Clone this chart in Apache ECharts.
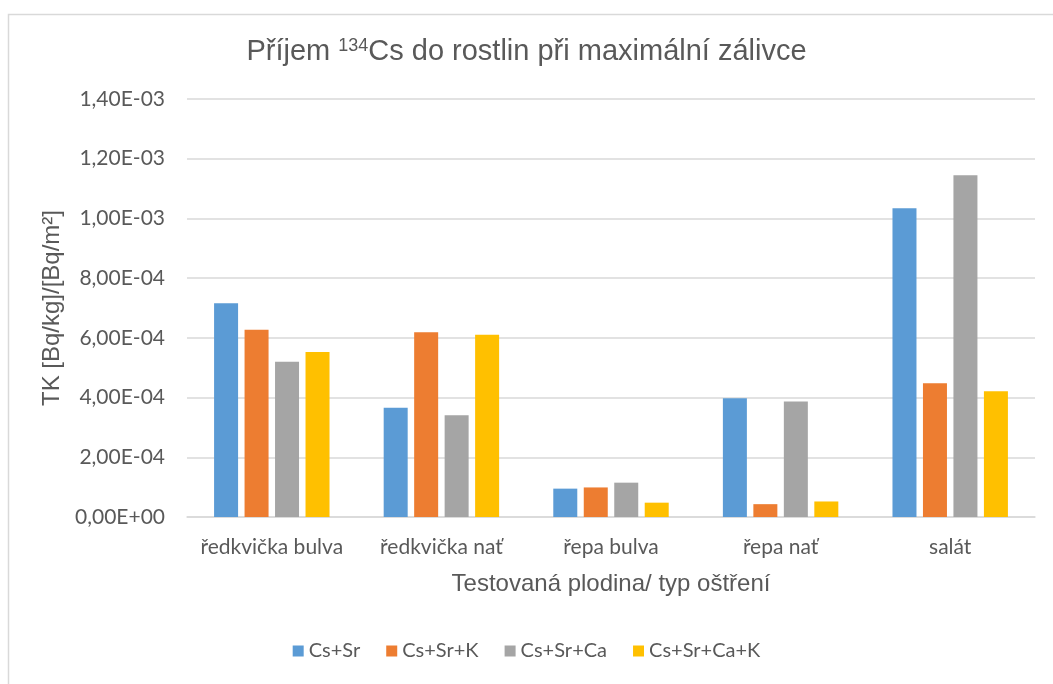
<!DOCTYPE html>
<html>
<head>
<meta charset="utf-8">
<script src="https://cdn.jsdelivr.net/npm/echarts@6/dist/echarts.min.js"></script>
<style>html,body{margin:0;padding:0;background:#fff;}#c{width:1053px;height:684px;}</style>
</head>
<body>
<div id="c"></div>
<script>
const categories = ['ředkvička bulva', 'ředkvička nať', 'řepa bulva', 'řepa nať', 'salát'];
const seriesNames = ['Cs+Sr', 'Cs+Sr+K', 'Cs+Sr+Ca', 'Cs+Sr+Ca+K'];
const csSr = [7.16e-4, 3.66e-4, 0.95e-4, 3.98e-4, 10.34e-4];
const csSrK = [6.27e-4, 6.19e-4, 0.99e-4, 0.43e-4, 4.48e-4];
const csSrCa = [5.20e-4, 3.41e-4, 1.15e-4, 3.87e-4, 11.45e-4];
const csSrCaK = [5.53e-4, 6.10e-4, 0.48e-4, 0.52e-4, 4.21e-4];
const yTickLabels = ['0,00E+00', '2,00E-04', '4,00E-04', '6,00E-04', '8,00E-04', '1,00E-03', '1,20E-03', '1,40E-03'];
const colors = ['#5B9BD5', '#ED7D31', '#A5A5A5', '#FFC000'];

const values = [csSr, csSrK, csSrCa, csSrCaK];
const textColor = '#595959';
const labelFont = 'Lato, "Open Sans", sans-serif';
const titleFont = '"Liberation Sans", Arial, sans-serif';

const chart = echarts.init(document.getElementById('c'), null, {renderer: 'canvas'});
chart.setOption({
  animation: false,
  color: colors,
  graphic: [{
    type: 'rect', left: 6, top: 12, shape: {width: 1100, height: 720},
    style: {fill: 'none', stroke: '#D9D9D9', lineWidth: 1.5}, silent: true
  }],
  title: {
    text: 'Příjem {sup|134}Cs do rostlin při maximální zálivce',
    left: 'center', top: 32,
    textStyle: {
      fontFamily: titleFont, fontSize: 29, fontWeight: 'normal', color: textColor,
      rich: {
        sup: {fontFamily: titleFont, fontSize: 18, color: textColor, verticalAlign: 'top', lineHeight: 30}
      }
    }
  },
  legend: {
    bottom: 18, left: 'center',
    itemWidth: 11, itemHeight: 11, itemGap: 26,
    icon: 'rect',
    textStyle: {fontFamily: labelFont, fontSize: 20, color: textColor}
  },
  grid: {left: 187, right: 18, top: 99, bottom: 167},
  xAxis: {
    type: 'category', data: categories,
    axisLine: {lineStyle: {color: '#D9D9D9', width: 1.5}},
    axisTick: {show: false},
    axisLabel: {fontFamily: labelFont, fontSize: 21, color: textColor, margin: 20, interval: 0, hideOverlap: false},
    name: 'Testovaná plodina/ typ oštření',
    nameLocation: 'middle', nameGap: 55,
    nameTextStyle: {fontFamily: titleFont, fontSize: 24, color: textColor}
  },
  yAxis: {
    type: 'value', min: 0, max: 0.0014, interval: 0.0002,
    axisLine: {show: false}, axisTick: {show: false},
    splitLine: {lineStyle: {color: '#D9D9D9', width: 1.5}},
    axisLabel: {
      fontFamily: labelFont, fontSize: 21, color: textColor, margin: 22,
      formatter: function (v) { return yTickLabels[Math.round(v / 0.0002)]; }
    },
    name: 'TK [Bq/kg]/[Bq/m²]',
    nameLocation: 'middle', nameGap: 119,
    nameTextStyle: {fontFamily: titleFont, fontSize: 24, color: textColor}
  },
  series: seriesNames.map((n, i) => ({
    name: n, type: 'bar', data: values[i],
    barWidth: 24, barGap: '27%',
    itemStyle: {color: colors[i]}
  }))
});
</script>
</body>
</html>
